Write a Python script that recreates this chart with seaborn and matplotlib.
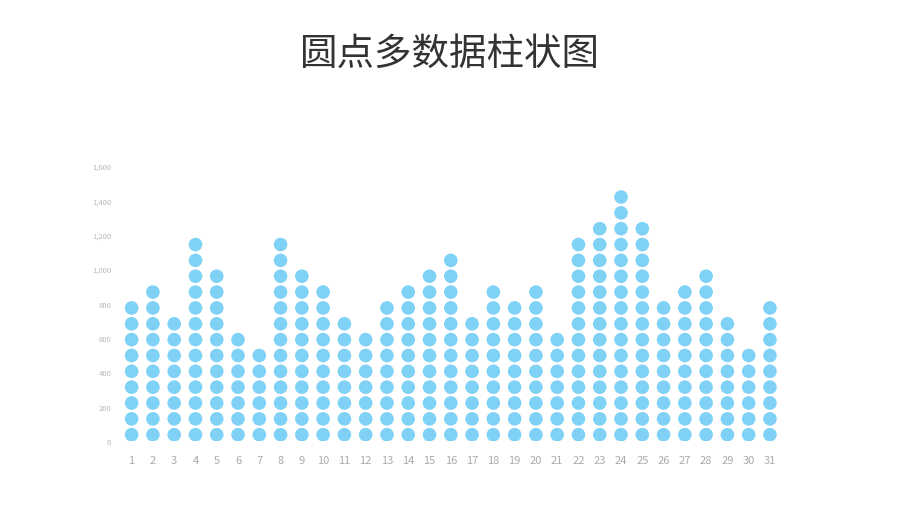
import pandas as pd
import matplotlib
matplotlib.use("Agg")
import matplotlib.pyplot as plt
import seaborn as sns

# 각 날짜별 점 개수
days = [str(d) for d in range(1, 32)]
dots = [9, 10, 8, 13, 11, 7, 6, 13, 11, 10, 8, 7, 9, 10, 11, 12,
        8, 10, 9, 10, 7, 13, 14, 16, 14, 9, 10, 11, 8, 6, 9]
dot_step = 92.2      # 점 하나당 값
dot_offset = 36.6    # 첫 점 중심 위치
y_ticks = [0, 200, 400, 600, 800, 1000, 1200, 1400, 1600]

rows = []
for day, n in zip(days, dots):
    for i in range(n):
        rows.append({"day": day, "value": dot_offset + i * dot_step})
df = pd.DataFrame(rows)

sns.set_theme(style="white")
plt.rcParams["font.family"] = ["Noto Sans CJK SC", "DejaVu Sans"]

fig = plt.figure(figsize=(9, 5.06), dpi=100)
ax = fig.add_axes([121 / 900, 64 / 506, (780.6 - 121) / 900, 275 / 506])

sns.scatterplot(data=df, x="day", y="value", ax=ax, s=96, color="#7fd2f6",
                edgecolor="none", linewidth=0, legend=False)

ax.set_xlim(-0.5, len(days) - 0.5)
ax.set_ylim(0, 1600)
ax.set_yticks(y_ticks)
ax.set_yticklabels([f"{v:,}" for v in y_ticks])
ax.tick_params(axis="y", labelsize=5.5, labelcolor="#b8b8b8", length=0, pad=7)
ax.tick_params(axis="x", labelsize=8, labelcolor="#aaaaaa", length=0, pad=10)
ax.set_xlabel("")
ax.set_ylabel("")
sns.despine(ax=ax, left=True, bottom=True)

fig.text(0.5, 1 - 54 / 506, "圆点多数据柱状图", ha="center", va="center",
         fontsize=27, color="#333333")

fig.savefig("out.png", dpi=100)
